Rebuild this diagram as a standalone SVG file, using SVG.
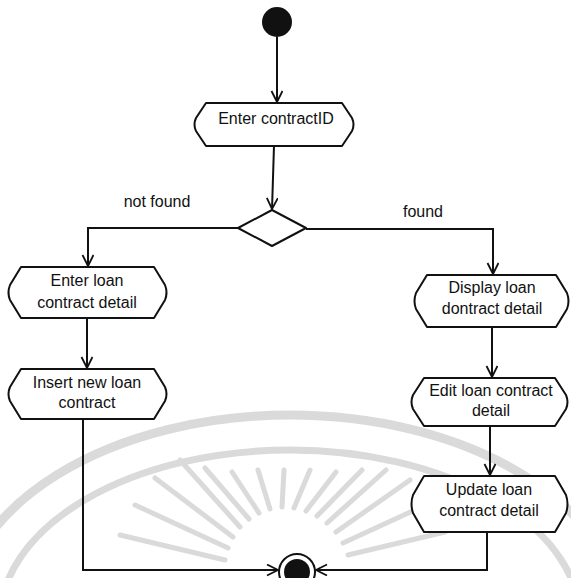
<svg xmlns="http://www.w3.org/2000/svg" width="571" height="578" viewBox="0 0 571 578">
  <style>
    .node { fill: #ffffff; stroke: #111111; stroke-width: 2; stroke-linejoin: round; }
    .lbl { font-family: "Liberation Sans", Arial, sans-serif; font-size: 16px; fill: #111111; text-anchor: middle; }
    .edge { fill: none; stroke: #111111; stroke-width: 2; }
    .wm { fill: none; stroke: #dadada; stroke-linecap: round; }
  </style>
  <defs>
    <marker id="arrow" markerUnits="userSpaceOnUse" markerWidth="14" markerHeight="14" refX="12" refY="6" orient="auto">
      <path d="M1,0.5 L12,6 L1,11.5" fill="none" stroke="#111111" stroke-width="1.8"/>
    </marker>
  </defs>

  <rect width="571" height="578" fill="#ffffff"/>

  <!-- faint background emblem -->
  <g id="emblem" class="wm">
    <path d="M -40,620 A 330 205 0 0 1 620,620" stroke-width="9"/>
    <path d="M 0,620 A 290 170 0 0 1 580,620" stroke-width="7"/>
    <g stroke-width="5">
      <line x1="225" y1="560" x2="120" y2="535"/>
      <line x1="228" y1="548" x2="135" y2="505"/>
      <line x1="233" y1="537" x2="155" y2="478"/>
      <line x1="240" y1="527" x2="180" y2="460"/>
      <line x1="249" y1="519" x2="205" y2="468"/>
      <line x1="259" y1="513" x2="232" y2="472"/>
      <line x1="270" y1="509" x2="258" y2="470"/>
      <line x1="282" y1="507" x2="284" y2="470"/>
      <line x1="294" y1="508" x2="310" y2="470"/>
      <line x1="306" y1="511" x2="336" y2="472"/>
      <line x1="317" y1="516" x2="362" y2="470"/>
      <line x1="327" y1="523" x2="386" y2="470"/>
      <line x1="336" y1="532" x2="410" y2="480"/>
      <line x1="343" y1="543" x2="430" y2="503"/>
      <line x1="348" y1="555" x2="445" y2="532"/>
    </g>
  </g>

  <!-- connectors -->
  <g id="connectors">
    <line class="edge" x1="277" y1="37" x2="277" y2="102" marker-end="url(#arrow)"/>
    <line class="edge" x1="274" y1="146" x2="272" y2="209" marker-end="url(#arrow)"/>
    <polyline class="edge" points="238,228 88,228 88,266" marker-end="url(#arrow)"/>
    <polyline class="edge" points="306,229 493,229 493,274" marker-end="url(#arrow)"/>
    <line class="edge" x1="87" y1="318" x2="87" y2="368" marker-end="url(#arrow)"/>
    <line class="edge" x1="492" y1="327" x2="492" y2="377" marker-end="url(#arrow)"/>
    <line class="edge" x1="490" y1="426" x2="490" y2="475" marker-end="url(#arrow)"/>
    <polyline class="edge" points="83,419 83,570 278,570" marker-end="url(#arrow)"/>
    <polyline class="edge" points="487,532 487,570 316,570" marker-end="url(#arrow)"/>
  </g>

  <!-- edge labels -->
  <text class="lbl" x="157" y="207">not found</text>
  <text class="lbl" x="423" y="217">found</text>

  <!-- start -->
  <g id="start">
    <circle cx="277" cy="22" r="15" fill="#111111"/>
  </g>

  <g id="enterContractId">
    <path class="node" d="M206,103 H342 L352,118 Q355,124.5 352,131 L342,146 H206 L196,131 Q193,124.5 196,118 Z"/>
    <text class="lbl" x="276" y="124">Enter contractID</text>
  </g>

  <g id="decision">
    <polygon class="node" points="272,210 306,228 272,246 238,228"/>
  </g>

  <g id="enterLoan">
    <path class="node" d="M21,267 H154 L165,285 Q168,292.5 165,300 L154,318 H21 L10,300 Q7,292.5 10,285 Z"/>
    <text class="lbl" x="87" y="286">Enter loan</text>
    <text class="lbl" x="87" y="308">contract detail</text>
  </g>

  <g id="insertLoan">
    <path class="node" d="M21,369 H154 L165,387 Q168,394 165,401 L154,419 H21 L10,401 Q7,394 10,387 Z"/>
    <text class="lbl" x="87" y="388">Insert new loan</text>
    <text class="lbl" x="87" y="408">contract</text>
  </g>

  <g id="displayLoan">
    <path class="node" d="M427,275 H556 L567,293 Q570,301 567,309 L556,327 H427 L416,309 Q413,301 416,293 Z"/>
    <text class="lbl" x="492" y="293">Display loan</text>
    <text class="lbl" x="492" y="314">dontract detail</text>
  </g>

  <g id="editLoan">
    <path class="node" d="M424,378 H555 L566,395 Q569,402 566,409 L555,426 H424 L413,409 Q410,402 413,395 Z"/>
    <text class="lbl" x="491" y="396">Edit loan contract</text>
    <text class="lbl" x="491" y="416">detail</text>
  </g>

  <g id="updateLoan">
    <path class="node" d="M424,476 H555 L566,495 Q569,504 566,513 L555,532 H424 L413,513 Q410,504 413,495 Z"/>
    <text class="lbl" x="489" y="495">Update loan</text>
    <text class="lbl" x="489" y="516">contract detail</text>
  </g>

  <!-- end -->
  <g id="end">
    <circle cx="297" cy="572" r="18" fill="#ffffff" stroke="#111111" stroke-width="2"/>
    <circle cx="297" cy="572" r="13" fill="#111111"/>
  </g>
</svg>
